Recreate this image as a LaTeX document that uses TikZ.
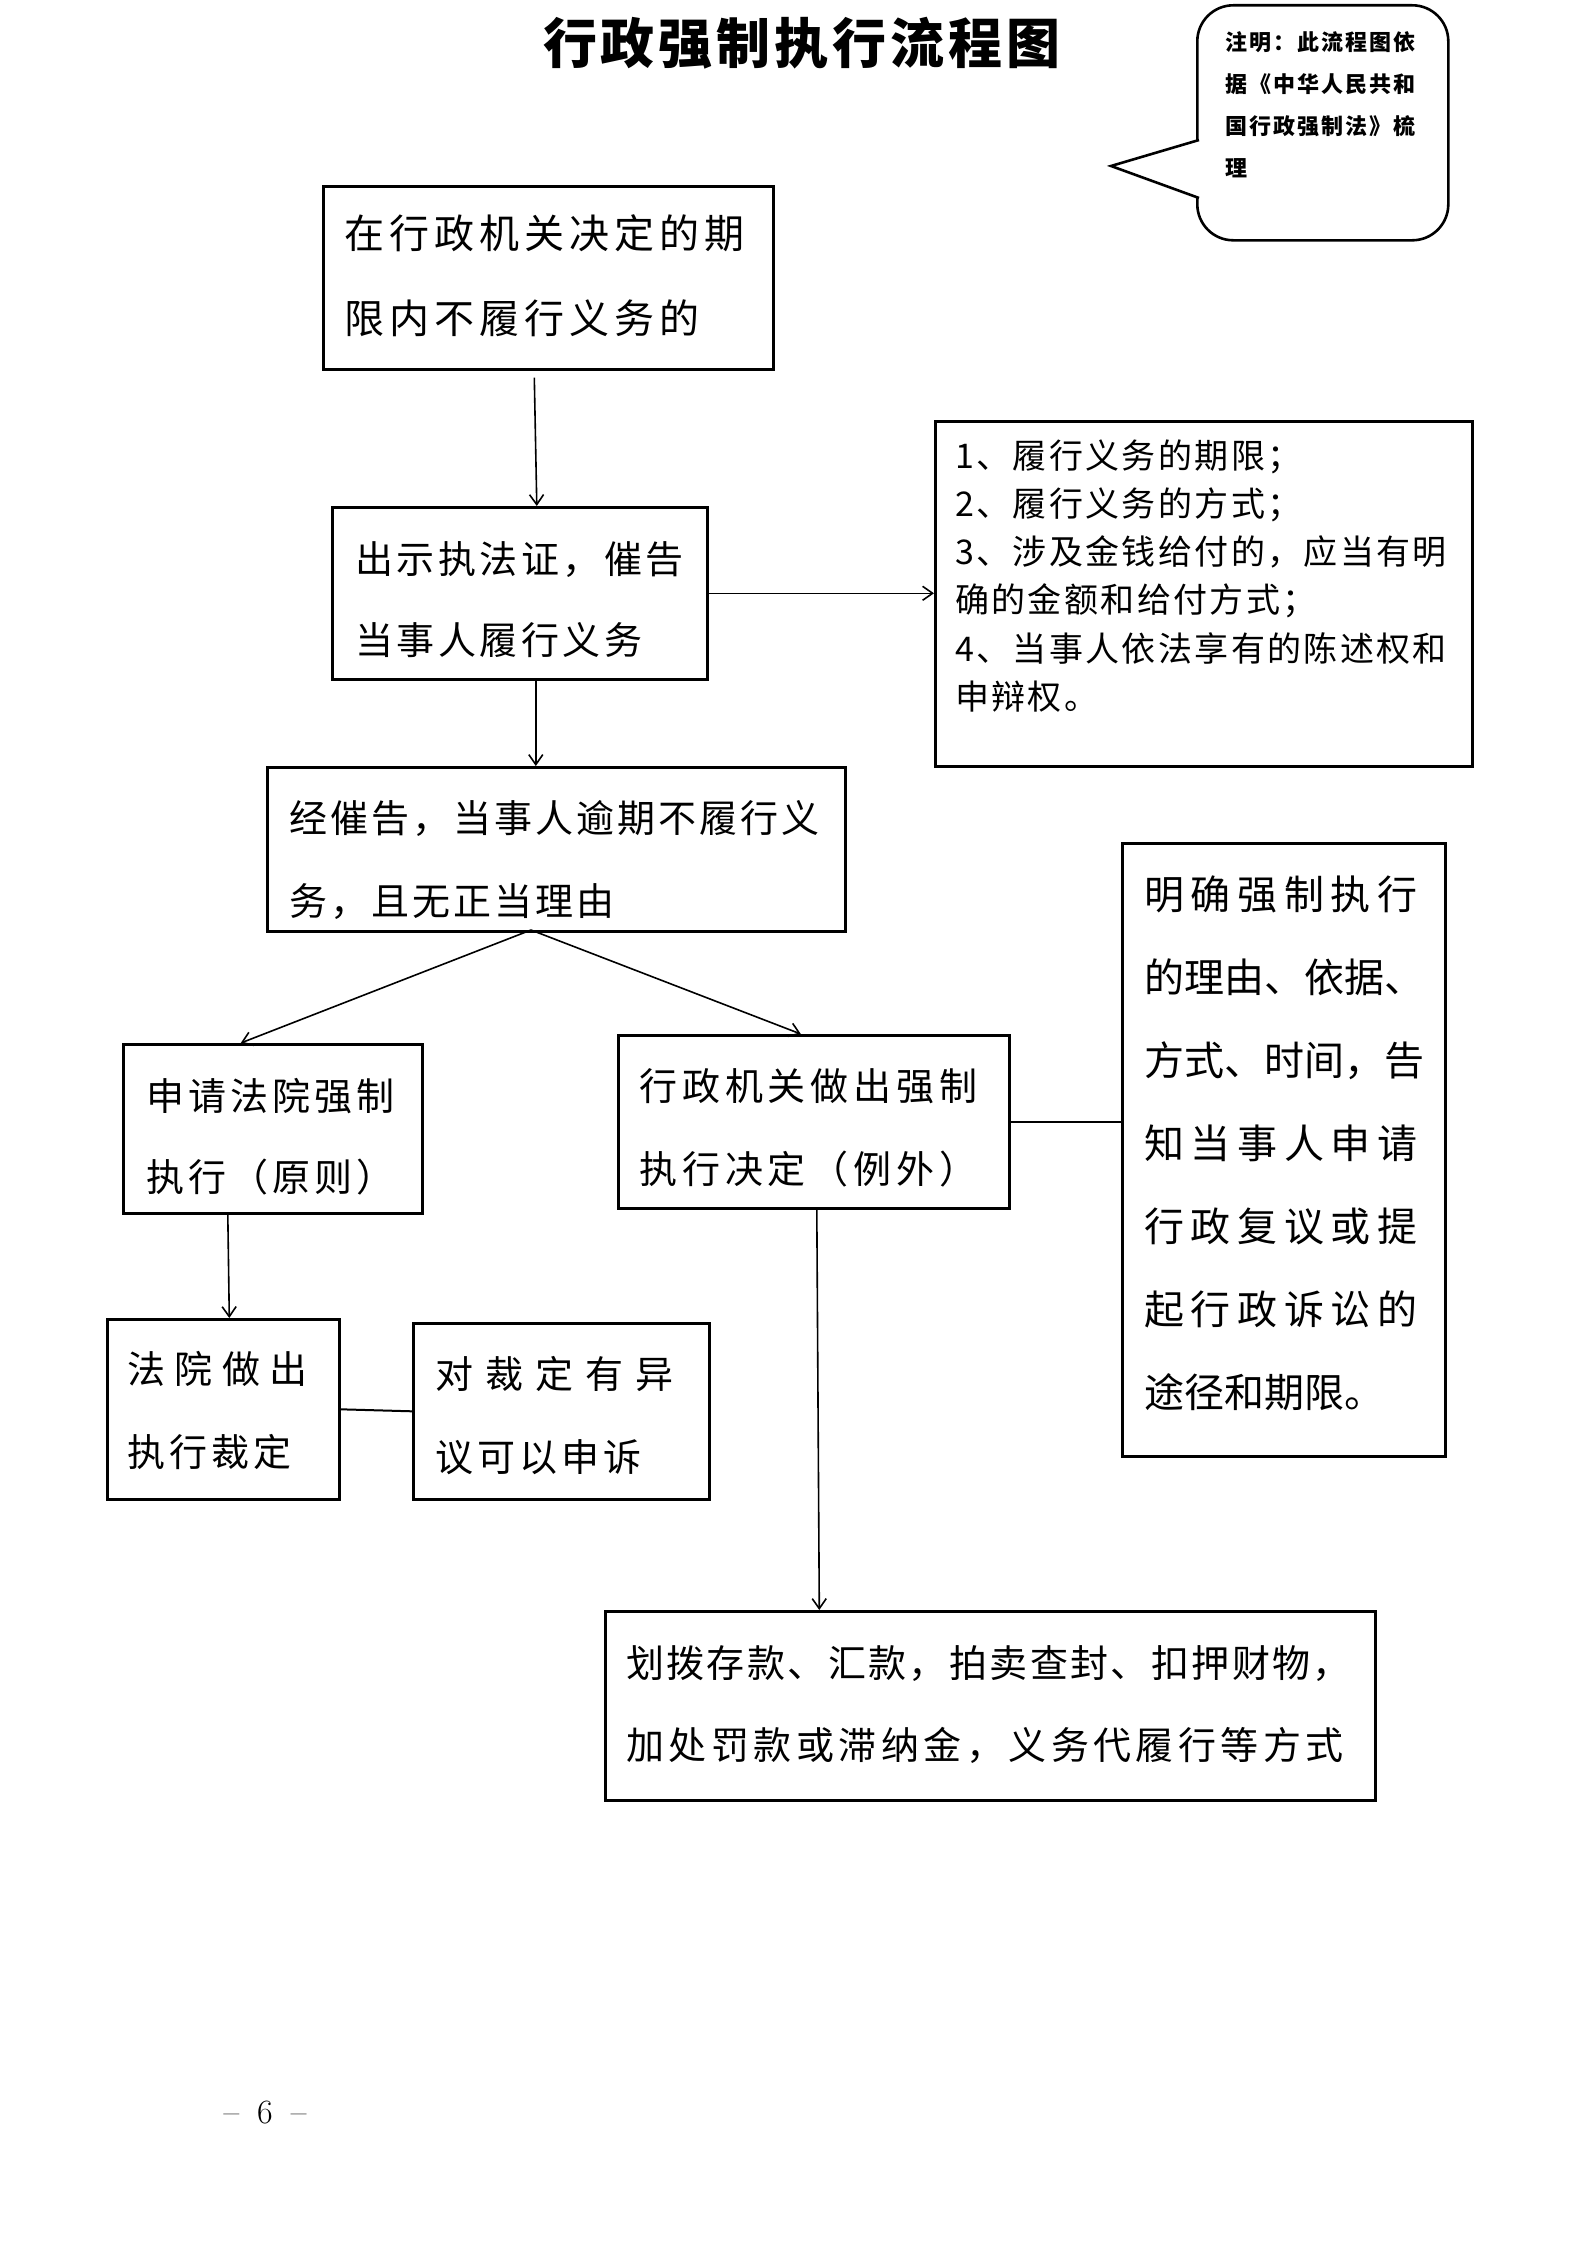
\documentclass[tikz,border=0pt]{standalone}
\usepackage{fontspec}
\newfontfamily\cjk{Noto Sans CJK SC}
\usetikzlibrary{arrows.meta}
\newcommand\cjf[3]{\cjk\fontsize{#1pt}{#2pt}\selectfont\addfontfeature{LetterSpace=#3}}
\newcommand\lsp[1]{\addfontfeature{LetterSpace=#1}}
\begin{document}
\begin{tikzpicture}[x=1pt,y=-1pt,
  box/.style={draw, line width=2.6pt, inner sep=0pt, anchor=north west},
  txt/.style={inner sep=0pt, align=left, anchor=base west, text width=#1},
  arr/.style={line width=1.6pt, -{Straight Barb[length=10pt,width=14pt,line width=1.6pt]}},
  link/.style={line width=2pt}]
\useasboundingbox (0,0) rectangle (1587,2245);
\fill[white] (0,0) rectangle (1587,2245);

% title
\node[inner sep=0pt] (title) at (802,43) {\cjf{54}{60}{7.4}\bfseries 行政强制执行流程图};

% callout note
\node[box, rounded corners=36pt, minimum width=251pt, minimum height=235pt] (note) at (1196,4) {};
\filldraw[line width=2.6pt, fill=white] (1199,140) -- (1111,166) -- (1199,198);
\node[txt=215pt] (notet) at (1225,51)
  {\cjf{22}{41.7}{9}\bfseries 注明：此流程图依\\据《中华人民共和\\国行政强制法》梳\\理\par};

% boxes
\node[box, minimum width=450pt, minimum height=183pt] (b1) at (322,185) {};
\node[txt=420pt] (t1) at (344,248) {\cjf{40}{85}{12.5}在行政机关决定的期\\限内不履行义务的\par};

\node[box, minimum width=375pt, minimum height=172pt] (b2) at (331,506) {};
\node[txt=345pt] (t2) at (355,573) {\cjf{38}{81}{9.2}出示执法证，催告\\当事人履行义务\par};

\node[box, minimum width=537pt, minimum height=345pt] (b3) at (934,420) {};
\node[txt=510pt] (t3) at (955,468)
  {\cjf{34}{48.3}{7}1、履行义务的期限；\\2、履行义务的方式；\\3、涉及金钱给付的，应当有明\\确的金额和给付方式；\\4、当事人依法享有的陈述权和\\申辩权。\par};

\node[box, minimum width=578pt, minimum height=164pt] (b4) at (266,766) {};
\node[txt=550pt] (t4) at (289,832) {\cjf{38}{83}{7.9}经催告，当事人逾期不履行义\\务，且无正当理由\par};

\node[box, minimum width=299pt, minimum height=169pt] (b5) at (122,1043) {};
\node[txt=270pt] (t5) at (146,1110) {\cjf{38}{81}{10.5}申请法院强制\\执行（原则）\par};

\node[box, minimum width=391pt, minimum height=173pt] (b6) at (617,1034) {};
\node[txt=365pt] (t6) at (639,1100) {\cjf{38}{83}{13}行政机关做出强制\\执行决定（例外）\par};

\node[box, minimum width=323pt, minimum height=613pt] (b7) at (1121,842) {};
\node[txt=295pt] (t7) at (1144,909)
  {\cjf{40}{83}{0}{\lsp{16.7}明确强制执行}\\的理由、依据、\\方式、时间，告\\{\lsp{16.7}知当事人申请}\\{\lsp{16.7}行政复议或提}\\{\lsp{16.7}起行政诉讼的}\\途径和期限。\par};

\node[box, minimum width=232pt, minimum height=180pt] (b8) at (106,1318) {};
\node[txt=210pt] (t8) at (127,1383) {\cjf{38}{83}{0}{\lsp{25}法院做出}\\{\lsp{10.5}执行裁定}\par};

\node[box, minimum width=296pt, minimum height=176pt] (b9) at (412,1322) {};
\node[txt=270pt] (t9) at (435,1388) {\cjf{38}{83}{0}{\lsp{31.6}对裁定有异}\\{\lsp{10.5}议可以申诉}\par};

\node[box, minimum width=770pt, minimum height=189pt] (b10) at (604,1610) {};
\node[txt=745pt] (t10) at (626,1677)
  {\cjf{38}{82}{0}{\lsp{6.3}划拨存款、汇款，拍卖查封、扣押财物，}\\{\lsp{11.8}加处罚款或滞纳金，义务代履行等方式}\par};

% page number
\node[inner sep=0pt] (page) at (265,2113) {\fontsize{34pt}{40pt}\selectfont –\hspace{18pt}6\hspace{18pt}–};

% connectors
\coordinate (split) at (531,930);
\draw[arr] ([xshift=-14pt,yshift=-7pt]b1.south) -- ([xshift=17pt]b2.north);
\draw[arr] (b2.east) -- (b2.east -| b3.west);
\draw[arr] ([xshift=16pt]b2.south) -- ([xshift=16pt]b2.south |- b4.north);
\draw[arr] (split) -- ([xshift=-32pt]b5.north);
\draw[arr] (split) -- ([xshift=-13pt]b6.north);
\draw[arr] ([xshift=-45pt]b5.south) -- ([xshift=6pt]b8.north);
\draw[link] (b8.east) -- (b9.west);
\draw[link] (b6.east) -- (b6.east -| b7.west);
\draw[arr] ([xshift=3pt]b6.south) -- ([xshift=-171pt]b10.north);
\end{tikzpicture}
\end{document}
